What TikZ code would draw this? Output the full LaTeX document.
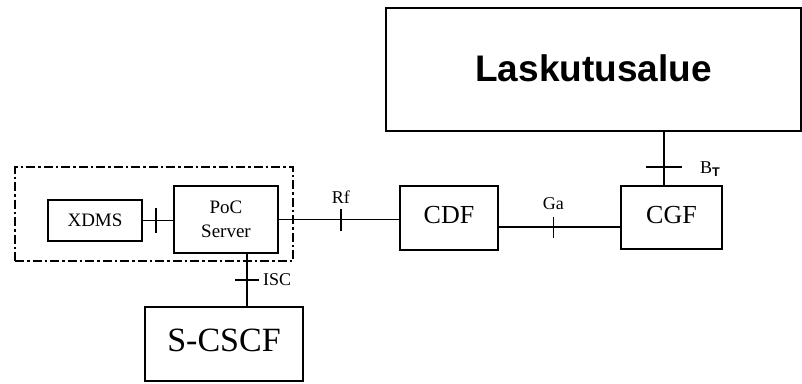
\documentclass[tikz,border=0pt]{standalone}
\usepackage{fontspec}
\setmainfont{Liberation Serif}
\newfontfamily\headfont{Liberation Sans}
\tikzset{
  box/.style={draw, line width=1.8pt, inner sep=0pt, rectangle, align=center},
  conn/.style={line width=1.8pt},
  grp/.style={draw, line width=2pt, dash pattern=on 9pt off 3pt on 2.5pt off 3pt, inner sep=0pt, rectangle},
  lbl/.style={font=\fontsize{18}{20}\selectfont, inner sep=0pt},
}
\begin{document}
\begin{tikzpicture}[x=1pt,y=-1pt]
\useasboundingbox (0,0) rectangle (802,383);
% boxes
\node[box, minimum width=415pt, minimum height=123pt, font=\headfont\bfseries\fontsize{37}{40}\selectfont] (lask) at (593.5,69.5) {\raisebox{3pt}{Laskutusalue}};
\node[box, minimum width=101pt, minimum height=63pt, font=\fontsize{26}{28}\selectfont] (cgf) at (671.5,217.5) {\raisebox{5pt}{CGF}};
\node[box, minimum width=98pt, minimum height=64pt, font=\fontsize{26}{28}\selectfont] (cdf) at (449,218) {\raisebox{7pt}{CDF}};
\node[box, minimum width=104pt, minimum height=67pt, font=\fontsize{19}{24}\selectfont] (poc) at (226,219.5) {PoC\\Server};
\node[box, minimum width=94pt, minimum height=41pt, font=\fontsize{19}{22}\selectfont] (xdms) at (95,220.5) {XDMS};
\node[box, minimum width=158pt, minimum height=74pt, font=\fontsize{34}{36}\selectfont] (scscf) at (224,344) {\raisebox{7pt}{S-CSCF}};
\node[grp, minimum width=278pt, minimum height=94pt] (group) at (154,214) {};
% connectors
\draw[conn] (xdms.east) -- coordinate[pos=0.44] (t1) (xdms.east -| poc.west);
\draw[conn] ([yshift=12.5pt]t1) -- ([yshift=-12.5pt]t1);

\draw[conn] (poc.east) -- coordinate[pos=0.516] (t2) (poc.east -| cdf.west);
\draw[conn] ([yshift=11pt]t2) -- ([yshift=-11pt]t2);
\node[lbl, anchor=south] (rf) at ([yshift=16pt]t2) {Rf};

\draw[conn] ([yshift=-9pt]cdf.east) -- coordinate[pos=0.45] (t3) ([yshift=-9pt]cdf.east -| cgf.west);
\draw[conn] ([yshift=10.5pt]t3) -- ([yshift=-10.5pt]t3);
\node[lbl, anchor=south] (ga) at ([yshift=17pt]t3) {Ga};

\draw[conn] ([xshift=-7.5pt]cgf.north) -- coordinate[pos=0.345] (t4) ([xshift=-7.5pt]cgf.north |- lask.south);
\draw[conn] ([xshift=-18pt]t4) -- ([xshift=18pt]t4);
\node[lbl, anchor=west] (bt) at ([xshift=36pt,yshift=-2pt]t4) {B\textsubscript{\headfont\bfseries T}};

\draw[conn] ([xshift=21pt]poc.south) -- coordinate[pos=0.5] (t5) ([xshift=21pt]poc.south |- scscf.north);
\draw[conn] ([xshift=-12pt]t5) -- ([xshift=12pt]t5);
\node[lbl, anchor=west] (isc) at ([xshift=16pt]t5) {ISC};
\end{tikzpicture}
\end{document}
